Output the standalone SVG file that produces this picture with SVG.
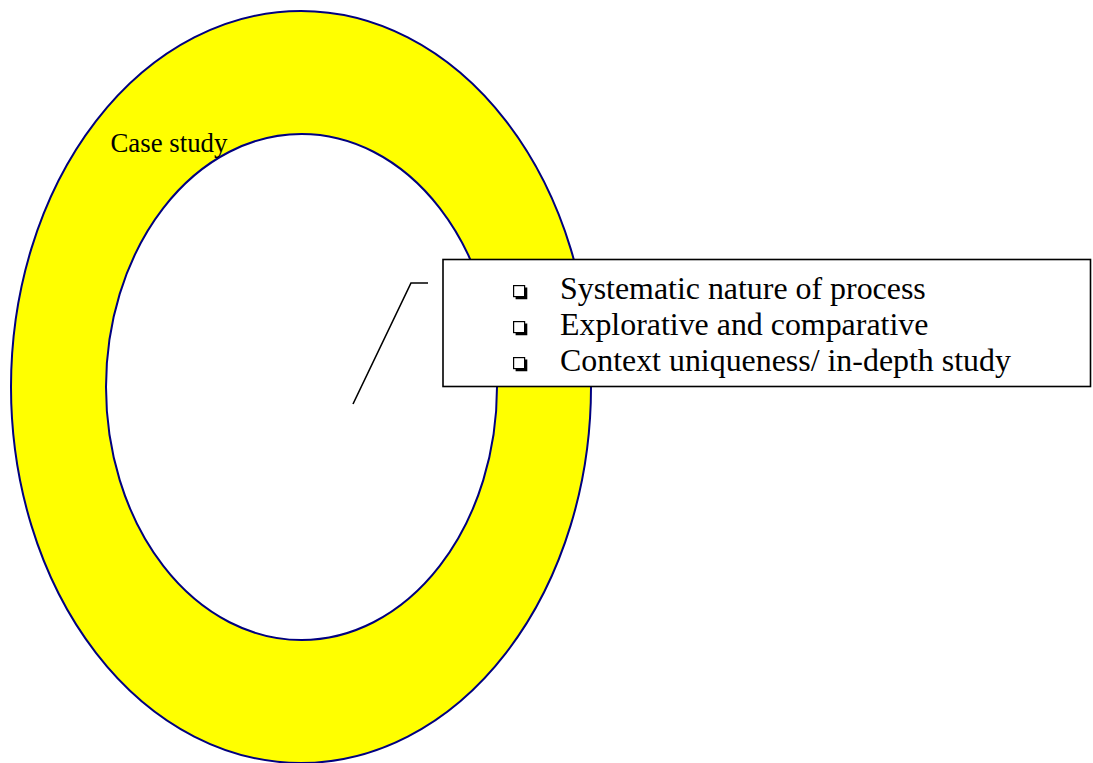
<svg xmlns="http://www.w3.org/2000/svg" width="1093" height="763" viewBox="0 0 1093 763">
<style>
.ring{stroke:#000080;stroke-width:2}
.txt{font-family:"Liberation Serif","Times New Roman",serif;fill:#000}
.box{fill:#fff;stroke:#000;stroke-width:1.6}
.conn{fill:none;stroke:#000;stroke-width:1.6}
.bsq{fill:#fff;stroke:#000;stroke-width:1.2}
.bsh{fill:none;stroke:#000;stroke-width:2.6}
</style>
<defs>
<g id="bullet">
<rect class="bsq" x="0.6" y="0.6" width="11" height="11"/>
<polyline class="bsh" points="13,2.6 13,13 2.6,13"/>
</g>
</defs>
<rect width="1093" height="763" fill="#fff"/>
<g id="case-study">
<ellipse class="ring" cx="301" cy="387" rx="290" ry="376" fill="#ffff00"/>
<ellipse class="ring" cx="301.5" cy="387" rx="195.5" ry="253" fill="#fff"/>
<text class="txt" x="110.5" y="152" font-size="26.8">Case study</text>
</g>
<g id="connectors">
<polyline class="conn" points="353,404 411,283 428,283"/>
</g>
<g id="callout">
<rect class="box" x="443" y="259.5" width="647.5" height="127"/>
<use href="#bullet" x="513" y="285"/>
<use href="#bullet" x="513" y="321"/>
<use href="#bullet" x="513" y="357"/>
<text class="txt" x="560" y="299" font-size="31.9">Systematic nature of process</text>
<text class="txt" x="560" y="335" font-size="31.9">Explorative and comparative</text>
<text class="txt" x="560" y="371" font-size="31.9">Context uniqueness/ in-depth study</text>
</g>
</svg>
